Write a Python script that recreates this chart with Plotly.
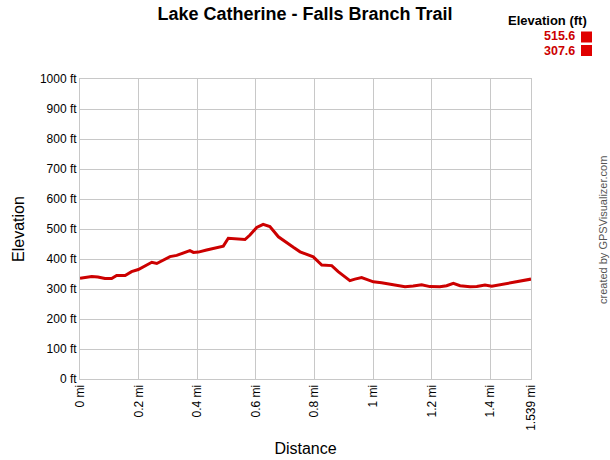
import plotly.graph_objects as go

title_text = "Lake Catherine - Falls Branch Trail"
distance_mi = [0.000, 0.040, 0.061, 0.085, 0.108, 0.125, 0.154, 0.176, 0.199, 0.222,
               0.245, 0.262, 0.290, 0.307, 0.330, 0.352, 0.375, 0.387, 0.404, 0.432,
               0.455, 0.489, 0.506, 0.529, 0.563, 0.580, 0.603, 0.625, 0.648, 0.677,
               0.699, 0.728, 0.751, 0.774, 0.796, 0.825, 0.859, 0.881, 0.921, 0.938,
               0.961, 0.978, 1.001, 1.029, 1.058, 1.109, 1.137, 1.166, 1.194, 1.228,
               1.251, 1.274, 1.297, 1.331, 1.354, 1.382, 1.405, 1.433, 1.467, 1.501,
               1.539]
elevation_ft = [336, 342, 340, 335, 335, 345, 345, 358, 365, 377,
                389, 385, 400, 408, 412, 421, 428, 422, 423, 430,
                435, 443, 469, 468, 465, 480, 505, 515.6, 508, 474,
                458, 439, 424, 415, 407, 380, 378, 358, 328, 333,
                338, 332, 324, 321, 317, 307.6, 310, 314, 308, 307.6,
                311, 319, 311, 307.6, 308, 313, 309, 314, 319, 324,
                333]
y_ticks = [0, 100, 200, 300, 400, 500, 600, 700, 800, 900, 1000]
y_ticklabels = [f"{v} ft" for v in y_ticks]
x_ticks = [0, 0.2, 0.4, 0.6, 0.8, 1.0, 1.2, 1.4, 1.539]
x_ticklabels = ["0 mi", "0.2 mi", "0.4 mi", "0.6 mi", "0.8 mi", "1 mi", "1.2 mi", "1.4 mi", "1.539 mi"]
legend_title = "Elevation (ft)"
legend_values = ["515.6", "307.6"]

FONT = "Liberation Sans, Arial, sans-serif"
RED = "#cc0000"
GRID = "#c8c8c8"

fig = go.Figure()
fig.add_trace(go.Scatter(x=distance_mi, y=elevation_ft, mode="lines",
                         line=dict(color=RED, width=3), hoverinfo="x+y",
                         showlegend=False))

fig.update_layout(
    width=610, height=460,
    margin=dict(l=80, r=79, t=79, b=81, autoexpand=False),
    paper_bgcolor="white", plot_bgcolor="white",
    font=dict(family=FONT, color="black", size=12),
    title=dict(text=f"<b>{title_text}</b>", x=0.5, xanchor="center",
               y=1 - 14 / 460, yanchor="middle",
               font=dict(size=18, family=FONT, color="black")),
    xaxis=dict(range=[0, 1.539], tickvals=x_ticks, ticktext=x_ticklabels,
               tickangle=-90, showgrid=True, gridcolor=GRID, gridwidth=1,
               showline=True, linecolor=GRID, mirror=True, zeroline=False,
               ticks="", tickfont=dict(size=12, family=FONT), automargin=False,
               title=dict(text="Distance", font=dict(size=16, family=FONT), standoff=12)),
    yaxis=dict(range=[0, 1000], tickvals=y_ticks, ticktext=y_ticklabels,
               showgrid=True, gridcolor=GRID, gridwidth=1,
               showline=True, linecolor=GRID, mirror=True, zeroline=False,
               ticks="", tickfont=dict(size=12, family=FONT), automargin=False,
               title=dict(text="Elevation", font=dict(size=16, family=FONT), standoff=11)),
)

def px_x(p):
    return (p - 80) / 451.0

def px_y(p):
    return (379 - p) / 300.0

annotations = [
    dict(text=f"<b>{legend_title}</b>", x=px_x(589), y=px_y(21), xref="paper", yref="paper",
         xanchor="right", yanchor="middle", showarrow=False,
         font=dict(size=13, family=FONT, color="black")),
    dict(text=f"<b>{legend_values[0]}</b>", x=px_x(577), y=px_y(36), xref="paper", yref="paper",
         xanchor="right", yanchor="middle", showarrow=False,
         font=dict(size=12.5, family=FONT, color=RED)),
    dict(text=f"<b>{legend_values[1]}</b>", x=px_x(577), y=px_y(50.5), xref="paper", yref="paper",
         xanchor="right", yanchor="middle", showarrow=False,
         font=dict(size=12.5, family=FONT, color=RED)),
    dict(text="created by GPSVisualizer.com", x=px_x(603), y=px_y(230), xref="paper", yref="paper",
         xanchor="center", yanchor="middle", showarrow=False, textangle=-90,
         font=dict(size=11, family=FONT, color="#555555")),
]
fig.update_layout(annotations=annotations)

for top in (31.5, 45):
    fig.add_shape(type="rect", xref="paper", yref="paper",
                  x0=px_x(581), x1=px_x(592), y0=px_y(top + 11), y1=px_y(top),
                  fillcolor="#e00000", line=dict(width=0))

fig.write_html("out.html", config={"displayModeBar": False},
               post_script="document.body.style.margin='0';document.body.style.overflow='hidden';")
